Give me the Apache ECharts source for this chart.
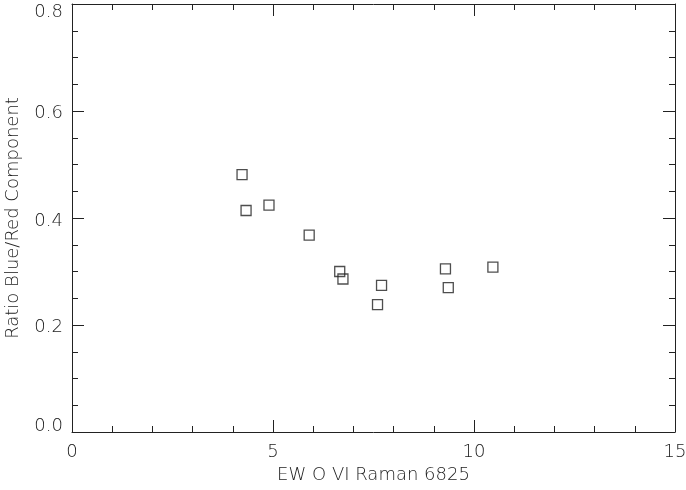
<!DOCTYPE html>
<html>
<head>
<meta charset="utf-8">
<script src="https://cdn.jsdelivr.net/npm/echarts@6/dist/echarts.min.js"></script>
<style>html,body{margin:0;padding:0;background:#fff}#c{width:686px;height:490px}</style>
</head>
<body>
<div id="c"></div>
<script>
var ewValues = [4.23, 4.33, 4.90, 5.90, 6.66, 6.74, 7.70, 7.60, 9.29, 9.36, 10.47];
var ratioValues = [0.481, 0.414, 0.424, 0.368, 0.300, 0.286, 0.274, 0.238, 0.305, 0.270, 0.308];
var xTitle = 'EW O VI Raman 6825';
var yTitle = 'Ratio Blue/Red Component';

var pts = ewValues.map(function(x, i){ return [x, ratioValues[i]]; });
var font = 'DejaVu Sans';
var txt = '#222';
var lineCol = '#222';
var fw = 200;

function axisCommon(showLabels){
  return {
    axisLine: {show: true, onZero: false, lineStyle: {color: lineCol, width: 1}},
    axisTick: {show: true, inside: true, length: 12, lineStyle: {color: lineCol}},
    minorTick: {show: true, length: 6, lineStyle: {color: lineCol}},
    splitLine: {show: false},
    axisLabel: {show: showLabels, color: txt, fontFamily: font, fontSize: 18, fontWeight: fw}
  };
}

var xBottom = Object.assign(axisCommon(true), {
  type: 'value', position: 'bottom', min: 0, max: 15, interval: 5,
  name: xTitle, nameLocation: 'middle', nameGap: 34,
  nameTextStyle: {color: txt, fontFamily: font, fontSize: 18, fontWeight: fw}
});
xBottom.minorTick.splitNumber = 5;
xBottom.axisLabel.margin = 11;
var xTop = Object.assign(axisCommon(false), {type: 'value', position: 'top', min: 0, max: 15, interval: 5});
xTop.minorTick.splitNumber = 5;

var richBase = {color: txt, fontFamily: font, fontSize: 18, fontWeight: fw};
function rs(pad){ return Object.assign({padding: pad}, richBase); }
var yLeft = Object.assign(axisCommon(true), {
  type: 'value', position: 'left', min: 0, max: 0.8, interval: 0.2,
  name: yTitle, nameLocation: 'middle', nameGap: 50,
  nameTextStyle: {color: txt, fontFamily: font, fontSize: 18, fontWeight: fw}
});
yLeft.minorTick.splitNumber = 4;
yLeft.axisLabel.margin = 9;
yLeft.axisLabel.formatter = function(v){
  var s = v.toFixed(1);
  var key = {'0.0':'a','0.2':'b','0.4':'c','0.6':'d','0.8':'e'}[s] || 'b';
  return '{' + key + '|' + s + '}';
};
yLeft.axisLabel.rich = {
  a: rs([0,0,12,0]),
  b: rs([4,0,0,0]),
  c: rs([6,0,0,0]),
  d: rs([4,0,0,0]),
  e: rs([16,0,0,0])
};
var yRight = Object.assign(axisCommon(false), {type: 'value', position: 'right', min: 0, max: 0.8, interval: 0.2});
yRight.minorTick.splitNumber = 4;

var chart = echarts.init(document.getElementById('c'));
chart.setOption({
  animation: false,
  backgroundColor: '#fff',
  grid: {left: 72, right: 11, top: 4, bottom: 58, containLabel: false, outerBoundsMode: 'none'},
  xAxis: [xBottom, xTop],
  yAxis: [yLeft, yRight],
  series: [{
    type: 'scatter',
    xAxisIndex: 0, yAxisIndex: 0,
    data: pts,
    symbol: 'rect',
    symbolSize: 10,
    itemStyle: {color: 'rgba(0,0,0,0)', borderColor: '#222', borderWidth: 1.3}
  }]
});
</script>
</body>
</html>
